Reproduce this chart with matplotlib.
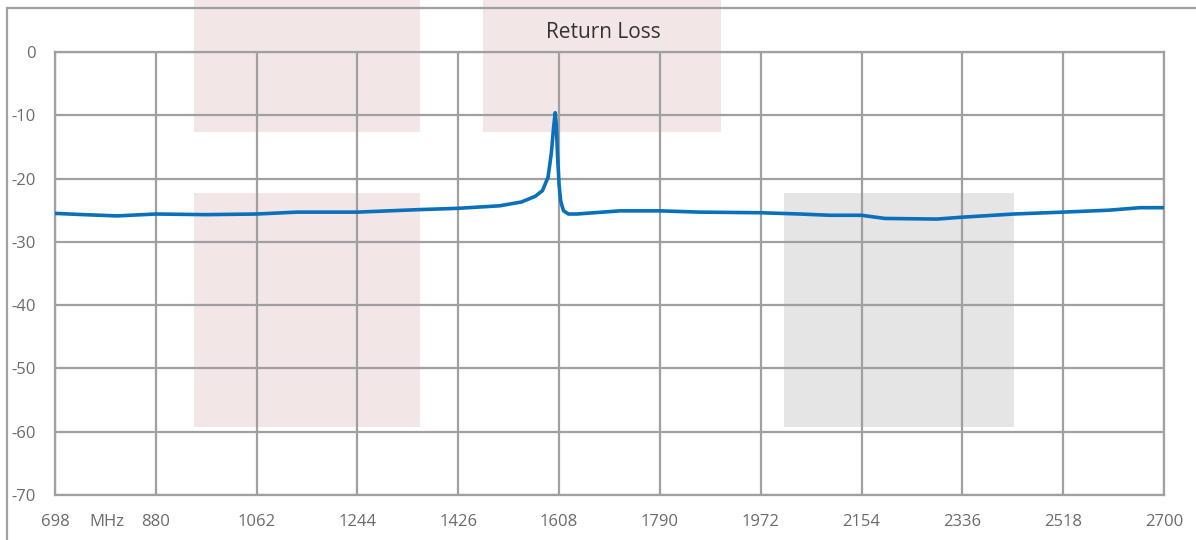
import numpy as np
import matplotlib
matplotlib.use("Agg")
from matplotlib import pyplot as plt
from matplotlib.patches import Rectangle

## Return loss trace (MHz, dB)
freq = [698, 750, 810, 880, 970, 1062, 1135, 1244, 1357, 1426, 1501, 1540, 1565, 1578,
        1588, 1594, 1598, 1601, 1603, 1605, 1608, 1611, 1616, 1625, 1640, 1718, 1790,
        1862, 1972, 2043, 2097, 2154, 2196, 2290, 2336, 2429, 2518, 2600, 2657, 2700]
rl = [-25.5, -25.7, -25.9, -25.6, -25.7, -25.6, -25.3, -25.3, -24.9, -24.7, -24.3, -23.7,
      -22.8, -21.9, -19.8, -16.0, -12.0, -9.6, -11.5, -16.0, -21.0, -23.6, -25.1, -25.6,
      -25.6, -25.1, -25.1, -25.3, -25.4, -25.6, -25.8, -25.8, -26.3, -26.4, -26.1,
      -25.6, -25.3, -25.0, -24.6, -24.6]

xticks = [698, 880, 1062, 1244, 1426, 1608, 1790, 1972, 2154, 2336, 2518, 2700]
yticks = [0, -10, -20, -30, -40, -50, -60, -70]

## shaded spec masks: (f_lo, f_hi, db_lo, db_hi, colour)
masks_f_lo = [949, 949, 1471, 2014]
masks_f_hi = [1357, 1357, 1900, 2429]
masks_db_lo = [-12.6, -59.2, -12.6, -59.2]
masks_db_hi = [9.0, -22.3, 9.0, -22.3]
masks_col = ['#f3e6e7', '#f3e6e7', '#f3e6e7', '#e5e5e5']

plt.rcParams['font.family'] = ['Open Sans', 'DejaVu Sans']
plt.rcParams['axes.unicode_minus'] = False

W, H = 1196, 540
fig = plt.figure(figsize=(W / 100, H / 100), dpi=100)
ax = fig.add_axes([55 / W, (H - 495) / H, 1109 / W, 443 / H])

gridcol = '#a0a0a0'
txtcol = '#6b6b6b'

for lo, hi, dlo, dhi, c in zip(masks_f_lo, masks_f_hi, masks_db_lo, masks_db_hi, masks_col):
    ax.add_patch(Rectangle((lo, dlo), hi - lo, dhi - dlo, facecolor=c, edgecolor='none',
                           clip_on=False, zorder=0.2))

ax.plot(freq, rl, color='#0a70ba', lw=2.6, solid_capstyle='round',
        solid_joinstyle='round', zorder=3)

ax.set_xlim(698, 2700)
ax.set_ylim(-70, 0)
ax.set_xticks(xticks)
ax.set_yticks(yticks)
ax.set_axisbelow(True)
ax.grid(True, color=gridcol, lw=1.6)
for s in ax.spines.values():
    s.set_color(gridcol)
    s.set_linewidth(1.6)
ax.tick_params(length=0, labelsize=12, labelcolor=txtcol)
ax.tick_params(axis='x', pad=14)
ax.tick_params(axis='y', pad=14)

ax.annotate('MHz', xy=(792, 0), xycoords=('data', 'axes fraction'), xytext=(0, -14),
            textcoords='offset points', ha='center', va='top', fontsize=12, color=txtcol)

fig.text(603 / W, 1 - 32 / H, 'Return Loss', ha='center', va='center', fontsize=15,
         color='#333333')

## outer chart frame
fig.patches.append(Rectangle((7 / W, -0.1), 1.2, 1 - 8 / H + 0.1, transform=fig.transFigure,
                             fill=False, edgecolor=gridcol, lw=1.6, zorder=5))

fig.savefig('out.png', dpi=100, facecolor='white')
